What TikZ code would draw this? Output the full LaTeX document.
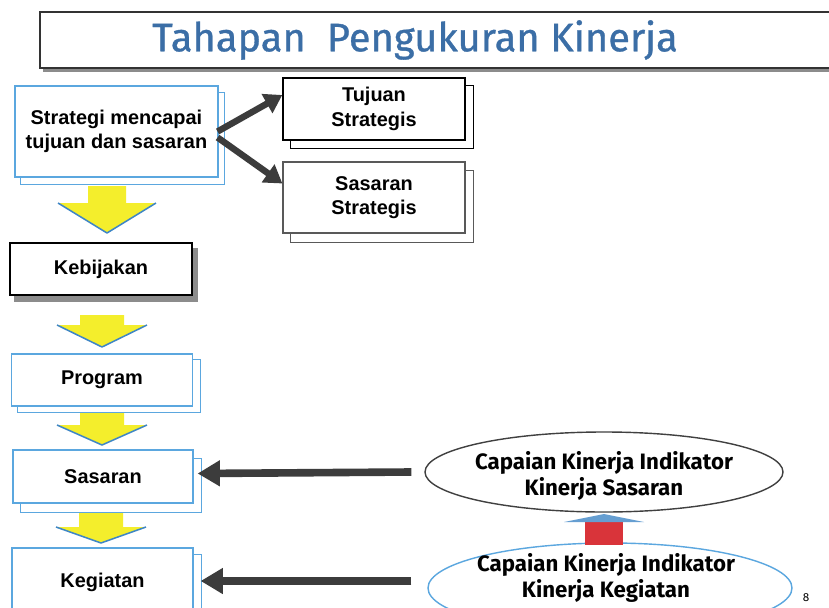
\documentclass[tikz,border=0pt]{standalone}
\usepackage{fontspec}
\setmainfont{Liberation Sans}
\newfontfamily\comicfont{Fira Sans}
\newfontfamily\titlefont{Fira Sans}[FakeBold=0.8]
\usetikzlibrary{arrows.meta,shapes.geometric,backgrounds}
\pgfdeclarelayer{bottom}
\pgfsetlayers{bottom,background,main}
\definecolor{titleblue}{HTML}{3B6EA6}
\definecolor{boxblue}{HTML}{5BA7DF}
\definecolor{arrowgray}{HTML}{3C3C3C}
\definecolor{yfill}{HTML}{F4EE2C}
\definecolor{yedge}{HTML}{3E86C6}
\definecolor{redfill}{HTML}{D9343A}
\newcommand\yellowdown[6]{% cx, top, base, tip, shaft half, head half
  \fill[yfill] (#1-#5,#2) -- (#1+#5,#2) -- (#1+#5,#3) -- (#1+#6,#3) -- (#1,#4) -- (#1-#6,#3) -- (#1-#5,#3) -- cycle;
  \draw[yedge, line width=1.3pt, line join=round] (#1-#6,#3) -- (#1,#4) -- (#1+#6,#3);}
\newcommand\copyshadow[4]{%
  \begin{pgfonlayer}{background}
  \draw[#4] ([shift={(#2,#3)}]#1.south west) rectangle ([shift={(#2,#3)}]#1.north east);
  \end{pgfonlayer}}
\tikzset{
  boxtext/.style={font=\bfseries\fontsize{17}{21}\selectfont, align=center, text=black},
  bluebox/.style={boxtext, draw=boxblue, line width=1pt, fill=white, inner sep=0pt},
  blackbox/.style={boxtext, draw=black, line width=1.2pt, fill=white, inner sep=0pt},
  graybox/.style={boxtext, draw=black!65, line width=1pt, fill=white, inner sep=0pt},
  blueshadow/.style={draw=boxblue, line width=1pt, fill=white},
  blackshadow/.style={draw=black, line width=1.2pt, fill=white},
  grayshadow/.style={draw=black!65, line width=1pt, fill=white},
  darrow/.style={draw=arrowgray, line width=5.5pt, -{Triangle[length=15pt,width=18pt]}},
  harrow/.style={draw=arrowgray, line width=6.5pt, -{Triangle[length=19pt,width=21pt]}},
  ellipsetext/.style={font=\comicfont\bfseries\fontsize{19}{22.5}\selectfont, align=center},
}
\begin{document}
\begin{tikzpicture}[x=0.03cm,y=-0.03cm]
\useasboundingbox (0,0) rectangle (829,607);
\clip (0,0) rectangle (829,607);
\begin{pgfonlayer}{bottom}
\fill[white] (0,0) rectangle (829,607);
\end{pgfonlayer}

% title
\fill[black!45] (43,16) rectangle (840,72);
\node[draw=black!80, line width=1.3pt, fill=white, minimum width=23.85cm, minimum height=1.68cm, inner sep=0pt] (titlebox) at (437.5,40) {};
\node[text=titleblue, font=\titlefont\fontsize{34}{38}\selectfont] (titletext) at (415,40) {Tahapan\ \ Pengukuran Kinerja};

% left column
\node[bluebox, minimum width=6.09cm, minimum height=2.73cm] (b1) at (116.5,131.5) {Strategi mencapai\\tujuan dan sasaran};
\copyshadow{b1}{6}{7}{blueshadow}

\node[blackbox, minimum width=5.46cm, minimum height=1.86cm] (tuj) at (374,109) {Tujuan\\Strategis};
\copyshadow{tuj}{8}{8}{blackshadow}

\node[graybox, minimum width=5.46cm, minimum height=2.13cm] (sstr) at (374,197.5) {Sasaran\\Strategis};
\copyshadow{sstr}{8}{9}{grayshadow}

\node[blackbox, minimum width=5.46cm, minimum height=1.56cm] (keb) at (101,269) {Kebijakan};
\begin{pgfonlayer}{background}
\fill[black!45] ([shift={(5,6)}]keb.south west) rectangle ([shift={(5,6)}]keb.north east);
\end{pgfonlayer}

\node[bluebox, minimum width=5.43cm, minimum height=1.56cm] (prog) at (102,380) {Program};
\copyshadow{prog}{7}{6}{blueshadow}

\node[bluebox, minimum width=5.4cm, minimum height=1.59cm] (sas) at (103,476.5) {Sasaran};
\copyshadow{sas}{8}{9}{blueshadow}

\node[bluebox, minimum width=5.43cm, minimum height=2.04cm] (keg) at (102.5,582) {Kegiatan};
\copyshadow{keg}{8}{7}{blueshadow}

% yellow arrows
\yellowdown{107}{186}{203}{233}{19}{49}
\yellowdown{102}{315}{325}{347}{22}{45}
\yellowdown{102}{413}{425}{445}{22}{45}
\yellowdown{101}{513}{527}{543}{22}{45}

% diagonal arrows
\draw[darrow] ([shift={(-1,0)}]b1.east) -- ([shift={(0,-14)}]tuj.west);
\draw[darrow] ([shift={(-1,6)}]b1.east) -- ([shift={(0,-14)}]sstr.west);

% ellipses
\node[ellipse, draw=black!75, line width=1.2pt, fill=white, minimum width=10.74cm, minimum height=2.4cm] (e1) at (604,472) {};
\node[ellipsetext] (e1t) at (604,476) {Capaian Kinerja Indikator\\Kinerja Sasaran};
\node[ellipse, draw=boxblue, line width=1.2pt, fill=white, minimum width=10.92cm, minimum height=2.7cm] (e2) at (610,588) {};
\node[ellipsetext] (e2t) at (606,578) {Capaian Kinerja Indikator\\Kinerja Kegiatan};

% red up arrow
\fill[redfill] (585,545) -- (585,521) -- (623,521) -- (623,545) -- cycle;
\fill[yedge!80] (564,522) -- (604,514) -- (644,522) -- cycle;

% horizontal arrows
\draw[harrow] ([shift={(-13,0)}]e1.west) -- ([shift={(4,-3)}]sas.east);
\draw[harrow] ([shift={(-16,-7)}]e2.west) -- ([shift={(7,-1)}]keg.east);

\node[font=\comicfont\fontsize{10}{12}\selectfont] (pg) at (806,598) {8};
\end{tikzpicture}
\end{document}
